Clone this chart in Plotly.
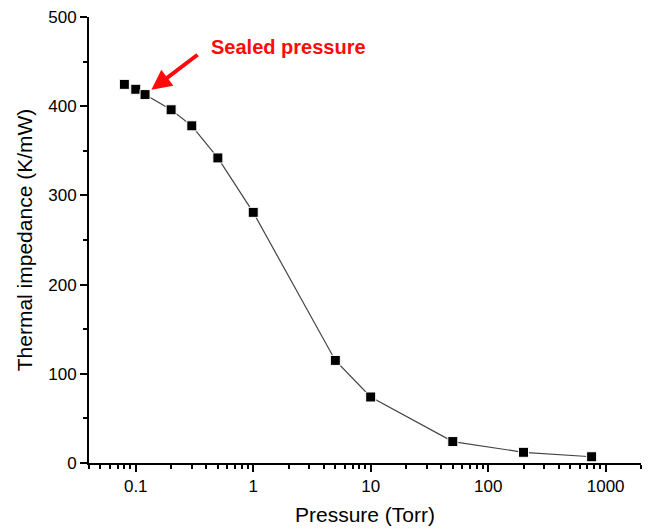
import math
import plotly.graph_objects as go

# Data
pressure_torr = [0.08, 0.1, 0.12, 0.2, 0.3, 0.5, 1, 5, 10, 50, 200, 760]
thermal_impedance = [424.5, 419, 413, 396, 378, 342, 281, 115, 74, 24, 12, 7]
x_tick_vals = [0.1, 1, 10, 100, 1000]
x_tick_text = ["0.1", "1", "10", "100", "1000"]
y_tick_vals = [0, 100, 200, 300, 400, 500]
annotation_text = "Sealed pressure"
sealed_index = 2

FONT = "Liberation Sans, Arial, sans-serif"

x_minor = [m * 10 ** e for e in range(-2, 4) for m in range(2, 10)
           if 0.04 <= m * 10 ** e <= 2000 and m != 1]
y_minor = [50, 150, 250, 350, 450]

fig = go.Figure()

# connecting line (starts at the sealed-pressure point)
fig.add_trace(go.Scatter(
    x=pressure_torr[sealed_index:], y=thermal_impedance[sealed_index:],
    mode="lines", line=dict(color="#444444", width=1.2),
    hoverinfo="skip", showlegend=False))

fig.add_trace(go.Scatter(
    x=pressure_torr, y=thermal_impedance, mode="markers",
    marker=dict(symbol="square", size=10, color="black",
                line=dict(color="white", width=1)),
    showlegend=False))

axis_common = dict(
    showline=True, linecolor="black", linewidth=2,
    ticks="outside", ticklen=7, tickwidth=1.5, tickcolor="black",
    showgrid=False, zeroline=False, mirror=False, automargin=False,
    tickfont=dict(family=FONT, size=17, color="black"),
)

fig.update_xaxes(
    type="log", range=[math.log10(0.04), math.log10(2000)],
    tickmode="array", tickvals=x_tick_vals, ticktext=x_tick_text,
    minor=dict(tickmode="array", tickvals=x_minor, ticks="outside",
               ticklen=4, tickwidth=1.5, tickcolor="black", showgrid=False),
    title=dict(text="Pressure (Torr)", font=dict(family=FONT, size=21, color="black"),
               standoff=12),
    **axis_common)

fig.update_yaxes(
    range=[0, 500], tickmode="array", tickvals=y_tick_vals,
    minor=dict(tickmode="array", tickvals=y_minor, ticks="outside",
               ticklen=4, tickwidth=1.5, tickcolor="black", showgrid=False),
    title=dict(text="Thermal impedance (K/mW)", font=dict(family=FONT, size=21, color="black"),
               standoff=10),
    **axis_common)

# arrow pointing to the sealed pressure point
fig.add_annotation(
    x=math.log10(pressure_torr[sealed_index]), y=thermal_impedance[sealed_index],
    xref="x", yref="y", ax=54, ay=-41, axref="pixel", ayref="pixel",
    text="", showarrow=True, arrowhead=2, arrowsize=1.0, arrowwidth=4,
    arrowcolor="#ff0a0a", standoff=8)

fig.add_annotation(
    x=math.log10(0.42), y=466, xref="x", yref="y",
    text="<b>" + annotation_text + "</b>", showarrow=False,
    xanchor="left", yanchor="middle",
    font=dict(family=FONT, size=20, color="#ff0a0a"))

fig.update_layout(
    width=649, height=531,
    margin=dict(l=89, r=8, t=17, b=68),
    paper_bgcolor="white", plot_bgcolor="white",
    font=dict(family=FONT, color="black"),
)

fig.write_html("out.html", config={"displayModeBar": False},
               post_script="document.body.style.margin='0';document.body.style.padding='0';")
